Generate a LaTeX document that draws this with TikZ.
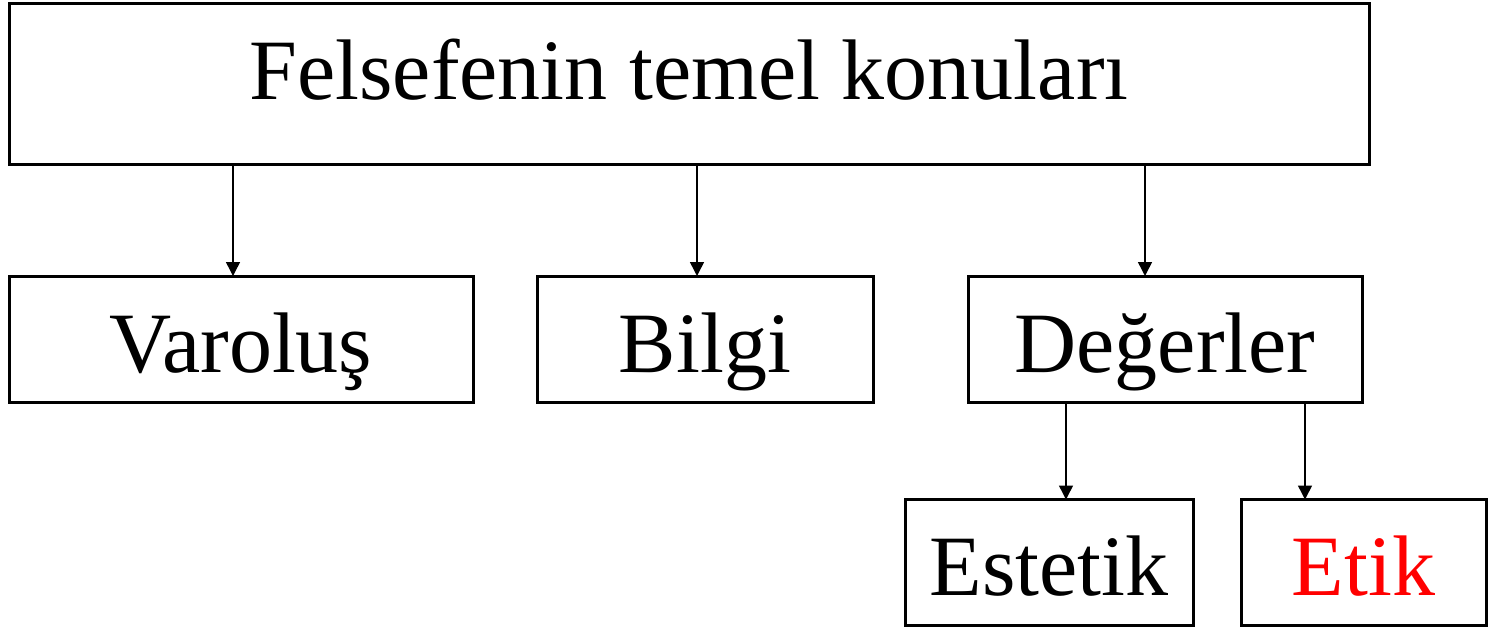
\documentclass[tikz,border=0pt]{standalone}
\usepackage{fontspec}
\setmainfont{Liberation Serif}
\usetikzlibrary{arrows.meta}
\begin{document}
\begin{tikzpicture}[x=1pt,y=-1pt,
  box/.style={draw=black,line width=3pt,inner sep=0pt,outer sep=0pt,
    font=\fontsize{86}{86}\selectfont,text height=96pt,text depth=30pt},
  topbox/.style={box,text depth=65pt},
  conn/.style={line width=1.5pt,-{Triangle[width=14pt,length=14pt]}}]
\useasboundingbox (0,0) rectangle (1489,627);
\node[topbox,minimum width=1360pt] (top) at (689,83.5) {Felsefenin temel konuları};
\node[box,minimum width=464pt] (var) at (241,339) {Varoluş};
\node[box,minimum width=336pt] (bil) at (705,339) {Bilgi};
\node[box,minimum width=394pt] (deg) at (1165,339) {Değerler};
\node[box,minimum width=288pt] (est) at (1049,562.5) {Estetik};
\node[box,minimum width=245pt,text=red] (etk) at (1363.5,562.5) {Etik};
\draw[conn] (top.south -| 233,0) -- (var.north -| 233,0);
\draw[conn] (top.south -| 697,0) -- (bil.north -| 697,0);
\draw[conn] (top.south -| 1145,0) -- (deg.north -| 1145,0);
\draw[conn] (deg.south -| 1066,0) -- (est.north -| 1066,0);
\draw[conn] (deg.south -| 1305,0) -- (etk.north -| 1305,0);
\end{tikzpicture}
\end{document}
